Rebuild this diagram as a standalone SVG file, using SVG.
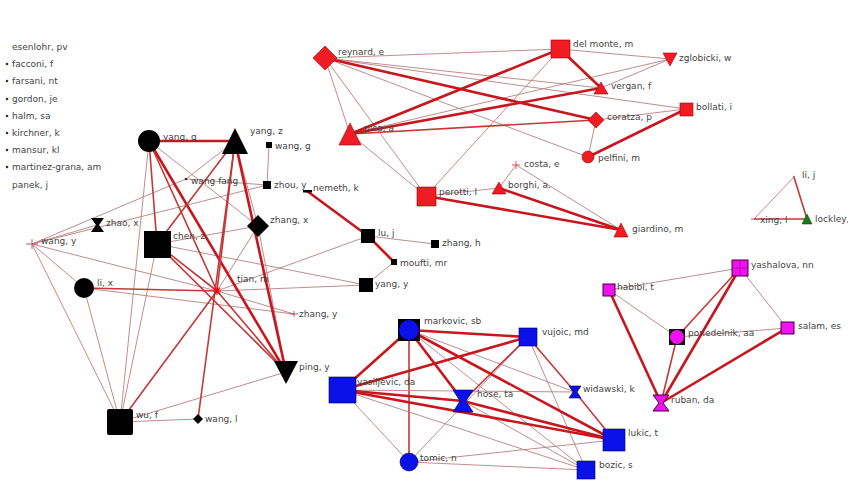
<svg xmlns="http://www.w3.org/2000/svg" width="848" height="480" viewBox="0 0 848 480">
<style>
text{font-family:"DejaVu Sans","Liberation Sans",sans-serif;font-size:9px;fill:#444}
.t{stroke:#b88080;stroke-width:0.9;fill:none}
.m{stroke:#c43838;stroke-width:1.6;fill:none}
.k{stroke:#c8161e;stroke-width:2.6;fill:none}
.blk{fill:#000}
.red{fill:#f01c24;stroke:#a00000;stroke-width:0.6}
.blu{fill:#0a10e8;stroke:#000050;stroke-width:0.6}
.mag{fill:#f010f0;stroke:#400040;stroke-width:1}
.bul{fill:#333}
</style>
<rect width="848" height="480" fill="#fff"/>
<g id="edges">
<!-- black cluster -->
<line class="t" x1="149" y1="141" x2="120" y2="422"/>
<line class="t" x1="149" y1="141" x2="258" y2="226"/>
<line class="t" x1="235" y1="141" x2="258" y2="226"/>
<line class="t" x1="235" y1="141" x2="186" y2="179"/>
<line class="t" x1="269" y1="145" x2="267" y2="185"/>
<line class="t" x1="267" y1="185" x2="186" y2="179"/>
<line class="t" x1="258" y1="226" x2="217" y2="291"/>
<line class="t" x1="258" y1="226" x2="157" y2="244"/>
<line class="t" x1="258" y1="226" x2="286" y2="372"/>
<line class="t" x1="32" y1="244" x2="186" y2="179"/>
<line class="t" x1="32" y1="244" x2="267" y2="185"/>
<line class="t" x1="32" y1="244" x2="97" y2="225"/>
<line class="t" x1="32" y1="244" x2="84" y2="288"/>
<line class="t" x1="32" y1="244" x2="120" y2="422"/>
<line class="t" x1="32" y1="244" x2="217" y2="291"/>
<line class="t" x1="84" y1="288" x2="120" y2="422"/>
<line class="t" x1="84" y1="288" x2="294" y2="314"/>
<line class="t" x1="157" y1="244" x2="120" y2="422"/>
<line class="t" x1="157" y1="244" x2="366" y2="285"/>
<line class="t" x1="368" y1="236" x2="435" y2="244"/>
<line class="t" x1="368" y1="236" x2="217" y2="291"/>
<line class="t" x1="394" y1="262" x2="366" y2="285"/>
<line class="t" x1="366" y1="285" x2="217" y2="291"/>
<line class="t" x1="217" y1="291" x2="294" y2="314"/>
<line class="t" x1="120" y1="422" x2="286" y2="372"/>
<line class="t" x1="120" y1="422" x2="198" y2="419"/>
<line class="m" x1="84" y1="288" x2="217" y2="291"/>
<line class="m" x1="217" y1="291" x2="120" y2="422"/>
<line class="k" x1="149" y1="141" x2="235" y2="141"/>
<line class="m" x1="149" y1="141" x2="157" y2="244"/>
<line class="k" x1="149" y1="141" x2="286" y2="372"/>
<line class="m" x1="149" y1="141" x2="217" y2="291"/>
<line class="k" x1="235" y1="141" x2="286" y2="372"/>
<line class="m" x1="235" y1="141" x2="217" y2="291"/>
<line class="m" x1="235" y1="141" x2="157" y2="244"/>
<line class="m" x1="235" y1="141" x2="198" y2="419"/>
<line class="m" x1="157" y1="244" x2="217" y2="291"/>
<line class="m" x1="157" y1="244" x2="286" y2="372"/>
<line class="m" x1="217" y1="291" x2="286" y2="372"/>
<line class="k" x1="307" y1="191" x2="368" y2="236"/>
<line class="k" x1="368" y1="236" x2="394" y2="262"/>
<!-- red cluster -->
<line class="t" x1="325" y1="58" x2="560" y2="49"/>
<line class="t" x1="325" y1="58" x2="686" y2="109"/>
<line class="t" x1="325" y1="58" x2="601" y2="88"/>
<line class="t" x1="325" y1="58" x2="588" y2="157"/>
<line class="t" x1="325" y1="58" x2="350" y2="134"/>
<line class="t" x1="325" y1="58" x2="426" y2="196"/>
<line class="t" x1="560" y1="49" x2="670" y2="59"/>
<line class="t" x1="560" y1="49" x2="426" y2="196"/>
<line class="t" x1="596" y1="120" x2="588" y2="157"/>
<line class="t" x1="596" y1="120" x2="686" y2="109"/>
<line class="t" x1="601" y1="88" x2="670" y2="59"/>
<line class="t" x1="350" y1="134" x2="670" y2="59"/>
<line class="t" x1="350" y1="134" x2="426" y2="196"/>
<line class="t" x1="426" y1="196" x2="499" y2="188"/>
<line class="t" x1="516" y1="165" x2="499" y2="188"/>
<line class="t" x1="516" y1="165" x2="621" y2="230"/>
<line class="m" x1="350" y1="134" x2="596" y2="120"/>
<line class="k" x1="325" y1="58" x2="596" y2="120"/>
<line class="k" x1="350" y1="134" x2="560" y2="49"/>
<line class="k" x1="350" y1="134" x2="601" y2="88"/>
<line class="k" x1="560" y1="49" x2="601" y2="88"/>
<line class="k" x1="588" y1="157" x2="686" y2="109"/>
<line class="k" x1="426" y1="196" x2="621" y2="230"/>
<line class="k" x1="499" y1="188" x2="621" y2="230"/>
<!-- right small -->
<line class="t" x1="794" y1="177" x2="754" y2="219"/>
<line class="m" x1="794" y1="177" x2="807" y2="219"/>
<line class="m" x1="754" y1="219" x2="807" y2="219"/>
<!-- magenta -->
<line class="t" x1="740" y1="268" x2="609" y2="290"/>
<line class="t" x1="740" y1="268" x2="787" y2="328"/>
<line class="t" x1="609" y1="290" x2="677" y2="337"/>
<line class="t" x1="677" y1="337" x2="787" y2="328"/>
<line class="m" x1="740" y1="268" x2="677" y2="337"/>
<line class="k" x1="740" y1="268" x2="661" y2="403"/>
<line class="k" x1="609" y1="290" x2="661" y2="403"/>
<line class="m" x1="677" y1="337" x2="661" y2="403"/>
<line class="k" x1="787" y1="328" x2="661" y2="403"/>
<!-- blue -->
<line class="t" x1="409" y1="330" x2="575" y2="392"/>
<line class="t" x1="409" y1="330" x2="586" y2="470"/>
<line class="m" x1="409" y1="330" x2="409" y2="462"/>
<line class="t" x1="342" y1="390" x2="586" y2="470"/>
<line class="t" x1="342" y1="390" x2="409" y2="462"/>
<line class="t" x1="342" y1="390" x2="575" y2="392"/>
<line class="t" x1="528" y1="337" x2="409" y2="462"/>
<line class="t" x1="528" y1="337" x2="586" y2="470"/>
<line class="t" x1="463" y1="401" x2="586" y2="470"/>
<line class="t" x1="409" y1="462" x2="614" y2="440"/>
<line class="t" x1="409" y1="462" x2="586" y2="470"/>
<line class="m" x1="528" y1="337" x2="463" y2="401"/>
<line class="m" x1="528" y1="337" x2="575" y2="392"/>
<line class="m" x1="575" y1="392" x2="614" y2="440"/>
<line class="k" x1="409" y1="330" x2="528" y2="337"/>
<line class="k" x1="409" y1="330" x2="342" y2="390"/>
<line class="k" x1="409" y1="330" x2="463" y2="401"/>
<line class="k" x1="409" y1="330" x2="614" y2="440"/>
<line class="k" x1="342" y1="390" x2="528" y2="337"/>
<line class="k" x1="342" y1="390" x2="463" y2="401"/>
<line class="k" x1="342" y1="390" x2="614" y2="440"/>
<line class="k" x1="463" y1="401" x2="614" y2="440"/>
</g>
<!-- isolates -->
<g id="n-esenlohr"><text x="12" y="50">esenlohr, pv</text></g>
<g id="n-facconi"><circle class="bul" cx="7" cy="64" r="1.3"/><text x="12" y="67">facconi, f</text></g>
<g id="n-farsani"><circle class="bul" cx="7" cy="81" r="1.3"/><text x="12" y="84">farsani, nt</text></g>
<g id="n-gordon"><circle class="bul" cx="7" cy="99" r="1.3"/><text x="12" y="102">gordon, je</text></g>
<g id="n-halm"><circle class="bul" cx="7" cy="116" r="1.3"/><text x="12" y="119">halm, sa</text></g>
<g id="n-kirchner"><circle class="bul" cx="7" cy="133" r="1.3"/><text x="12" y="136">kirchner, k</text></g>
<g id="n-mansur"><circle class="bul" cx="7" cy="150" r="1.3"/><text x="12" y="153">mansur, kl</text></g>
<g id="n-martinez"><circle class="bul" cx="7" cy="167" r="1.3"/><text x="12" y="170">martinez-grana, am</text></g>
<g id="n-panek"><text x="12" y="188">panek, j</text></g>
<!-- black cluster -->
<g id="n-yang-g"><circle class="blk" cx="149" cy="141" r="11"/><text x="163" y="140">yang, g</text></g>
<g id="n-yang-z"><polygon class="blk" points="222,154 248,154 235,128"/><text x="250" y="134">yang, z</text></g>
<g id="n-wang-g"><rect class="blk" x="266" y="142" width="6" height="6"/><text x="275" y="149">wang, g</text></g>
<g id="n-wang-fang"><circle class="bul" cx="186" cy="179" r="1.3"/><text x="191" y="184">wang fang</text></g>
<g id="n-zhou-y"><rect class="blk" x="263" y="181" width="8" height="8"/><text x="274" y="188">zhou, y</text></g>
<g id="n-nemeth-k"><rect class="blk" x="303" y="190" width="9" height="2.5"/><text x="313" y="191">nemeth, k</text></g>
<g id="n-zhang-x"><polygon class="blk" points="258,215 269,226 258,237 247,226"/><text x="270" y="223">zhang, x</text></g>
<g id="n-lu-j"><rect class="blk" x="361" y="229" width="14" height="14"/><text x="378" y="236">lu, j</text></g>
<g id="n-zhang-h"><rect class="blk" x="431" y="240" width="8" height="8"/><text x="442" y="246">zhang, h</text></g>
<g id="n-moufti-mr"><rect class="blk" x="391" y="259" width="6" height="6"/><text x="400" y="266">moufti, mr</text></g>
<g id="n-yang-y"><rect class="blk" x="359" y="278" width="14" height="14"/><text x="375" y="287">yang, y</text></g>
<g id="n-tian-m"><path d="M213,291h8M217,287v8M214,288l6,6M220,288l-6,6" stroke="#e01010" stroke-width="1.2"/><text x="237" y="282">tian, m</text></g>
<g id="n-zhang-y"><path d="M290,314h8M294,311v6" stroke="#c05070" stroke-width="1"/><text x="299" y="317">zhang, y</text></g>
<g id="n-chen-z"><rect class="blk" x="144" y="231" width="27" height="27"/><text x="173" y="239">chen, z</text></g>
<g id="n-zhao-x"><polygon class="blk" points="91,218 104,218 99,225 104,232 91,232 96,225"/><text x="106" y="226">zhao, x</text></g>
<g id="n-wang-y"><path d="M26,244h12M32,239v10" stroke="#c05070" stroke-width="1"/><text x="41" y="244">wang, y</text></g>
<g id="n-li-x"><circle class="blk" cx="84" cy="288" r="10"/><text x="97" y="286">li, x</text></g>
<g id="n-ping-y"><polygon class="blk" points="274,361 298,361 286,384"/><text x="299" y="370">ping, y</text></g>
<g id="n-wu-f"><rect class="blk" x="107" y="409" width="26" height="26" rx="2"/><text x="136" y="418">wu, f</text></g>
<g id="n-wang-l"><polygon class="blk" points="198,414 203,419 198,424 193,419"/><text x="205" y="422">wang, l</text></g>
<!-- red cluster -->
<g id="n-reynard-e"><polygon class="red" points="325,46 337,58 325,70 313,58"/><text x="338" y="55">reynard, e</text></g>
<g id="n-del-monte-m"><rect class="red" x="551" y="40" width="19" height="18"/><text x="573" y="47">del monte, m</text></g>
<g id="n-zglobicki-w"><polygon class="red" points="663,53 677,53 670,66"/><text x="679" y="61">zglobicki, w</text></g>
<g id="n-vergan-f"><polygon class="red" points="594,94 608,94 601,82"/><text x="611" y="89">vergan, f</text></g>
<g id="n-bollati-i"><rect class="red" x="680" y="103" width="13" height="13"/><text x="696" y="110">bollati, i</text></g>
<g id="n-coratza-p"><polygon class="red" points="596,112 604,120 596,128 588,120"/><text x="607" y="120">coratza, p</text></g>
<g id="n-pica-a"><polygon class="red" points="339,145 361,145 350,123"/><text x="364" y="131">pica, a</text></g>
<g id="n-pelfini-m"><circle class="red" cx="588" cy="157" r="6"/><text x="598" y="161">pelfini, m</text></g>
<g id="n-costa-e"><path d="M512,165h8M516,161v8" stroke="#e05060" stroke-width="1"/><text x="524" y="167">costa, e</text></g>
<g id="n-borghi-a"><polygon class="red" points="492,194 506,194 499,182"/><text x="508" y="188">borghi, a.</text></g>
<g id="n-perotti-l"><rect class="red" x="417" y="187" width="19" height="19"/><text x="439" y="195">perotti, l</text></g>
<g id="n-giardino-m"><polygon class="red" points="614,237 628,237 621,223"/><text x="632" y="232">giardino, m</text></g>
<!-- right small -->
<g id="n-li-j"><circle fill="#b07080" cx="794" cy="177" r="1.2"/><text x="802" y="178">li, j</text></g>
<g id="n-xing-l"><path d="M751,219h6" stroke="#b05060" stroke-width="1"/><text x="760" y="223">xing, l</text></g>
<g id="n-lockley"><polygon fill="#1a7a1a" stroke="#0a3a0a" stroke-width="0.5" points="802,224 812,224 807,214"/><text x="815" y="222">lockley,</text></g>
<!-- magenta -->
<g id="n-yashalova-nn"><rect class="mag" x="732" y="260" width="16" height="16"/><path d="M740,261v14M733,268h14" stroke="#a000a0" stroke-width="0.6"/><text x="751" y="268">yashalova, nn</text></g>
<g id="n-habibi-t"><rect class="mag" x="603" y="284" width="12" height="12" stroke="#000" stroke-width="1.5"/><text x="617" y="290">habibi, t</text></g>
<g id="n-ponedelnik-aa"><rect x="669" y="329" width="16" height="16" fill="#111"/><circle cx="677" cy="337" r="7" fill="#f010f0"/><text x="688" y="336">ponedelnik, aa</text></g>
<g id="n-salam-es"><rect class="mag" x="781" y="322" width="13" height="12"/><text x="798" y="329">salam, es</text></g>
<g id="n-ruban-da"><polygon class="mag" points="653,395 669,395 663,403 669,411 653,411 659,403"/><text x="671" y="403">ruban, da</text></g>
<!-- blue -->
<g id="n-markovic-sb"><rect x="398" y="319" width="22" height="22" fill="#000"/><circle cx="409" cy="330" r="10" fill="#0a10e8"/><text x="424" y="324">markovic, sb</text></g>
<g id="n-vujoic-md"><rect class="blu" x="519" y="328" width="18" height="18"/><text x="542" y="335">vujoic, md</text></g>
<g id="n-vasiljevic-da"><rect class="blu" x="329" y="377" width="27" height="26"/><text x="357" y="385">vasiljevic, da</text></g>
<g id="n-hose-ta"><polygon class="blu" points="453,390 473,390 466,401 473,412 453,412 460,401"/><text x="477" y="397">hose, ta</text></g>
<g id="n-widawski-k"><polygon class="blu" points="569,386 581,386 577,392 581,398 569,398 573,392"/><text x="583" y="392">widawski, k</text></g>
<g id="n-lukic-t"><rect class="blu" x="603" y="429" width="22" height="22"/><text x="628" y="436">lukic, t</text></g>
<g id="n-tomic-n"><circle class="blu" cx="409" cy="462" r="9"/><text x="420" y="461">tomic, n</text></g>
<g id="n-bozic-s"><rect class="blu" x="577" y="461" width="18" height="18"/><text x="599" y="468">bozic, s</text></g>
</svg>
